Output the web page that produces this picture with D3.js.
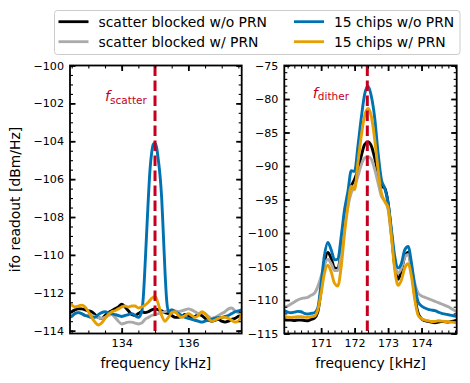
<!DOCTYPE html>
<html>
<head>
<meta charset="utf-8">
<script src="https://cdn.jsdelivr.net/npm/d3@7"></script>
<style>
body { margin: 0; background: white; }
svg { display: block; font-family: "DejaVu Sans", sans-serif; }
</style>
</head>
<body>
<div id="chart"></div>
<script>
// ---- data: left panel (scatter line) ----
const fScatter = 135.0
const freqL = [132.4, 132.5, 132.6, 132.7, 132.8, 132.9, 133.0, 133.1, 133.2, 133.3,
    133.4, 133.5, 133.6, 133.7, 133.8, 133.9, 134.0, 134.1, 134.2, 134.3,
    134.4, 134.5, 134.6, 134.7, 134.8, 134.9, 135.0, 135.1, 135.2, 135.3,
    135.4, 135.5, 135.6, 135.7, 135.8, 135.9, 136.0, 136.1, 136.2, 136.3,
    136.4, 136.5, 136.6, 136.7, 136.8, 136.9, 137.0, 137.1, 137.2, 137.3,
    137.4, 137.5, 137.6]
const blackL = [-113.1, -113.0, -112.9, -112.85, -112.85, -112.9, -112.95, -113.0, -113.15, -113.3,
    -113.35, -113.2, -113.05, -112.95, -112.85, -112.75, -112.6, -112.75, -112.95, -113.15,
    -113.2, -113.1, -113.0, -113.05, -113.0, -112.9, -112.85, -112.9, -112.95, -113.05,
    -113.1, -113.2, -113.3, -113.3, -113.25, -113.15, -113.2, -113.3, -113.25, -113.15,
    -113.2, -113.35, -113.45, -113.5, -113.45, -113.4, -113.5, -113.55, -113.5, -113.4,
    -113.35, -113.25, -113.2]
const grayL = [-113.3, -113.2, -113.1, -113.05, -113.1, -113.2, -113.2, -113.2, -113.25, -113.3,
    -113.35, -113.3, -113.2, -113.15, -113.3, -113.5, -113.65, -113.6, -113.55, -113.55,
    -113.6, -113.65, -113.6, -113.4, -113.3, -113.2, -113.15, -113.1, -113.05, -113.0,
    -112.95, -112.9, -112.95, -113.0, -112.95, -112.9, -112.85, -112.9, -113.0, -113.1,
    -113.05, -113.1, -113.25, -113.35, -113.3, -113.2, -113.1, -113.0, -112.85, -112.8,
    -112.95, -113.05, -113.1]
const orangeL = [-112.55, -112.65, -112.75, -112.7, -112.65, -112.75, -113.0, -113.3, -113.55, -113.7,
    -113.6, -113.35, -113.15, -113.0, -112.95, -112.85, -112.75, -112.7, -112.75, -112.7,
    -112.7, -112.8, -112.75, -112.65, -112.5, -112.3, -112.2, -112.6, -113.2, -113.5,
    -113.3, -113.05, -113.0, -113.2, -113.3, -113.2, -113.1, -113.2, -113.3, -113.2,
    -113.0, -113.1, -113.35, -113.5, -113.45, -113.35, -113.3, -113.3, -113.35, -113.45,
    -113.55, -113.5, -113.1]
const freqBlueL = [132.4, 132.5, 132.6, 132.7, 132.8, 132.9, 133.0, 133.1, 133.2, 133.3,
    133.4, 133.5, 133.6, 133.7, 133.8, 133.9, 134.0, 134.1, 134.2, 134.3,
    134.4, 134.5, 134.6, 134.65, 134.7, 134.75, 134.8, 134.85, 134.9, 134.95,
    135.0, 135.05, 135.1, 135.15, 135.2, 135.25, 135.3, 135.35, 135.4, 135.5,
    135.6, 135.7, 135.8, 135.9, 136.0, 136.1, 136.2, 136.3, 136.4, 136.5,
    136.6, 136.7, 136.8, 136.9, 137.0, 137.1, 137.2, 137.3, 137.4, 137.5, 137.6]
const blueL = [-113.3, -113.25, -113.1, -113.05, -113.1, -113.2, -113.25, -113.3, -113.3, -113.15,
    -113.05, -113.0, -113.05, -113.1, -113.15, -113.2, -113.25, -113.2, -113.15, -113.1,
    -113.2, -113.3, -113.0, -112.2, -110.6, -108.8, -107.0, -105.5, -104.6, -104.15,
    -104.1, -104.35, -105.0, -105.8, -107.0, -108.9, -110.9, -112.4, -113.0, -112.9,
    -113.0, -113.1, -113.2, -113.3, -113.35, -113.4, -113.45, -113.5, -113.55, -113.5,
    -113.45, -113.4, -113.35, -113.3, -113.3, -113.25, -113.2, -113.1, -113.0, -112.95, -112.9]

// ---- data: right panel (dither line) ----
const fDither = 172.38
const freqR = [169.8, 169.9, 170.0, 170.1, 170.2, 170.3, 170.4, 170.5, 170.6, 170.7,
    170.8, 170.9, 171.0, 171.1, 171.2, 171.3, 171.4, 171.5, 171.6, 171.7,
    171.8, 171.9, 172.0, 172.1, 172.2, 172.3, 172.4, 172.5, 172.6, 172.7,
    172.8, 172.9, 173.0, 173.1, 173.2, 173.3, 173.4, 173.5, 173.6, 173.7,
    173.8, 173.9, 174.0, 174.1, 174.2, 174.3, 174.4, 174.5, 174.6, 174.7,
    174.8, 174.9, 175.0, 175.1]
const blueR = [-111.5, -111.6, -111.8, -111.9, -111.8, -111.7, -111.75, -112.0, -112.1, -112.0,
    -111.9, -111.2, -107.5, -103.3, -101.4, -102.5, -104.0, -103.9, -100.5, -96.5,
    -93.8, -90.7, -90.8, -87.0, -82.8, -79.3, -78.1, -79.6, -82.8, -88.0,
    -92.0, -93.3, -95.5, -99.5, -103.5, -105.2, -104.5, -102.5, -102.0, -104.5,
    -108.0, -110.3, -110.9, -111.2, -111.4, -111.5, -111.6, -111.8, -112.0, -112.1,
    -112.2, -112.3, -112.4, -112.5]
const blackR = [-112.9, -112.9, -113.0, -113.0, -113.05, -113.0, -113.0, -113.05, -113.1, -112.9,
    -112.7, -111.8, -108.5, -104.5, -102.9, -103.8, -105.2, -105.3, -102.5, -98.0,
    -95.0, -93.0, -92.0, -90.5, -88.5, -86.8, -86.4, -87.0, -88.8, -91.0,
    -93.0, -93.3, -95.5, -100.0, -105.0, -106.9, -105.5, -103.5, -102.9, -105.5,
    -109.5, -112.0, -112.8, -113.1, -113.2, -113.3, -113.4, -113.3, -113.2, -113.25,
    -113.3, -113.2, -113.1, -113.0]
const grayR = [-111.2, -111.1, -110.9, -110.6, -110.3, -110.0, -109.8, -109.7, -109.6, -109.3,
    -109.0, -108.0, -106.5, -104.8, -103.9, -104.6, -105.6, -105.6, -103.0, -99.0,
    -96.0, -94.0, -93.0, -91.5, -89.8, -88.8, -88.6, -89.0, -90.5, -92.5,
    -94.5, -95.2, -96.5, -100.5, -104.5, -106.0, -105.2, -103.6, -103.2, -105.2,
    -107.5, -109.0, -109.4, -109.6, -109.8, -110.0, -110.2, -110.4, -110.6, -110.8,
    -111.0, -111.3, -111.6, -111.9]
const orangeR = [-112.5, -112.5, -112.55, -112.6, -112.55, -112.5, -112.5, -112.55, -112.6, -112.5,
    -112.4, -111.5, -109.0, -106.0, -104.8, -105.8, -107.5, -107.9, -105.0, -100.0,
    -96.0, -93.0, -93.5, -89.5, -85.5, -82.5, -81.4, -82.6, -86.0, -90.5,
    -94.0, -95.3, -96.2, -100.5, -105.5, -107.8, -107.0, -105.2, -104.6, -106.5,
    -110.0, -112.3, -112.8, -113.0, -113.1, -113.2, -113.2, -113.1, -113.15, -113.2,
    -113.25, -113.3, -113.35, -113.4]

// ---- ticks and labels ----
const xTicksL = [134, 136]
const yTicksL = [-114, -112, -110, -108, -106, -104, -102, -100]
const xTicksR = [171, 172, 173, 174]
const yTicksR = [-115, -110, -105, -100, -95, -90, -85, -80, -75]
const legendNames = ["scatter blocked w/o PRN", "scatter blocked w/ PRN", "15 chips w/o PRN", "15 chips w/ PRN"]
const COLORS = {black: "#000000", gray: "#aaaaaa", blue: "#0072b2", orange: "#e69f00"}
const RED = "#c5001e"

const W = 470, H = 383
const TOP = 65.5, BOT = 333.5

const svg = d3.select("#chart")
    .append("svg")
    .attr("width", W)
    .attr("height", H)

const xL = d3.scaleLinear().domain([132.45, 137.6]).range([70, 241.7])
const yL = d3.scaleLinear().domain([-114.15, -100]).range([BOT, TOP])
const xR = d3.scaleLinear().domain([169.9, 175.05]).range([284.3, 456.7])
const yR = d3.scaleLinear().domain([-115, -75]).range([BOT, TOP])

function drawPanel(id, x, y, opts) {
    const [x0, x1] = x.range()
    const g = svg.append("g")

    svg.append("clipPath").attr("id", id)
        .append("rect")
        .attr("x", x0).attr("y", TOP)
        .attr("width", x1 - x0).attr("height", BOT - TOP)

    const line = (fx) => d3.line()
        .x((d, i) => x(fx[i]))
        .y(d => y(d))
        .curve(d3.curveMonotoneX)

    const plot = g.append("g").attr("clip-path", `url(#${id})`)
    opts.series.forEach(s => {
        plot.append("path")
            .attr("d", line(s.f)(s.v))
            .attr("fill", "none")
            .attr("stroke", s.color)
            .attr("stroke-width", 2.9)
            .attr("stroke-linejoin", "round")
    })

    plot.append("line")
        .attr("x1", x(opts.fLine)).attr("x2", x(opts.fLine))
        .attr("y1", TOP).attr("y2", BOT)
        .attr("stroke", RED)
        .attr("stroke-width", 3)
        .attr("stroke-dasharray", "10.5,4.5")

    // ticks: major + minor on all four sides, pointing inward
    const sides = [
        {ax: d3.axisBottom(x), t: `translate(0,${BOT})`, maj: opts.xMajor, min: opts.xMinor, label: true},
        {ax: d3.axisTop(x), t: `translate(0,${TOP})`, maj: opts.xMajor, min: opts.xMinor, label: false},
        {ax: d3.axisLeft(y), t: `translate(${x0},0)`, maj: opts.yMajor, min: opts.yMinor, label: true},
        {ax: d3.axisRight(y), t: `translate(${x1},0)`, maj: opts.yMajor, min: opts.yMinor, label: false}
    ]
    sides.forEach(s => {
        g.append("g")
            .attr("transform", s.t)
            .call(s.ax.tickValues(s.min).tickSizeInner(-3).tickSizeOuter(0).tickFormat(""))
            .call(a => a.select(".domain").remove())
            .selectAll("line").attr("stroke-width", 1.1)
        const gm = g.append("g")
            .attr("transform", s.t)
            .call(s.ax.tickValues(s.maj).tickSizeInner(-5.5).tickSizeOuter(0).tickPadding(6)
                .tickFormat(s.label ? d3.format("d") : ""))
            .call(a => a.select(".domain").remove())
        gm.selectAll("line").attr("stroke-width", 1.8)
        gm.selectAll("text").attr("font-size", 11.1).attr("fill", "black")
            .attr("font-family", "DejaVu Sans")
    })

    g.append("rect")
        .attr("x", x0).attr("y", TOP)
        .attr("width", x1 - x0).attr("height", BOT - TOP)
        .attr("fill", "none")
        .attr("stroke", "black")
        .attr("stroke-width", 1.8)

    const t = g.append("text")
        .attr("x", x(opts.fLine - opts.annoOffset))
        .attr("y", y(opts.annoY))
        .attr("fill", RED)
        .attr("font-size", 14.5)
    t.append("tspan").attr("font-style", "italic").text("f")
    t.append("tspan").attr("font-size", 10.5).attr("dy", 2.5).text(opts.anno)

    g.append("text")
        .attr("x", (x0 + x1) / 2)
        .attr("y", 368)
        .attr("text-anchor", "middle")
        .attr("font-size", 13.9)
        .text("frequency [kHz]")
}

drawPanel("clipL", xL, yL, {
    series: [
        {f: freqL, v: blackL, color: COLORS.black},
        {f: freqL, v: grayL, color: COLORS.gray},
        {f: freqBlueL, v: blueL, color: COLORS.blue},
        {f: freqL, v: orangeL, color: COLORS.orange}
    ],
    fLine: fScatter,
    xMajor: xTicksL, xMinor: d3.range(132.5, 137.6, 0.5),
    yMajor: yTicksL, yMinor: d3.range(-114, -99.9, 0.5),
    anno: "scatter", annoOffset: 1.5, annoY: -101.9
})

drawPanel("clipR", xR, yR, {
    series: [
        {f: freqR, v: blackR, color: COLORS.black},
        {f: freqR, v: grayR, color: COLORS.gray},
        {f: freqR, v: blueR, color: COLORS.blue},
        {f: freqR, v: orangeR, color: COLORS.orange}
    ],
    fLine: fDither,
    xMajor: xTicksR, xMinor: d3.range(170.0, 175.01, 0.2),
    yMajor: yTicksR, yMinor: d3.range(-115, -74.9, 1),
    anno: "dither", annoOffset: 1.63, annoY: -79.85
})

svg.append("text")
    .attr("transform", `translate(15,${(TOP + BOT) / 2}) rotate(-90)`)
    .attr("text-anchor", "middle")
    .attr("dy", "0.35em")
    .attr("font-size", 13.9)
    .text("ifo readout [dBm/Hz]")

// legend
const legend = svg.append("g")
legend.append("rect")
    .attr("x", 54.5).attr("y", 10.5)
    .attr("width", 405.5).attr("height", 44)
    .attr("rx", 3)
    .attr("fill", "white").attr("fill-opacity", 0.8)
    .attr("stroke", "#cccccc")
const legendColors = [COLORS.black, COLORS.gray, COLORS.blue, COLORS.orange]
legendNames.forEach((name, i) => {
    const lx = i < 2 ? 58.5 : 294
    const ly = i % 2 === 0 ? 21.7 : 41.7
    legend.append("line")
        .attr("x1", lx).attr("x2", lx + 30)
        .attr("y1", ly).attr("y2", ly)
        .attr("stroke", legendColors[i])
        .attr("stroke-width", 2.8)
    legend.append("text")
        .attr("x", lx + 40).attr("y", ly)
        .attr("dy", "0.35em")
        .attr("font-size", 13.9)
        .text(name)
})
</script>
</body>
</html>
